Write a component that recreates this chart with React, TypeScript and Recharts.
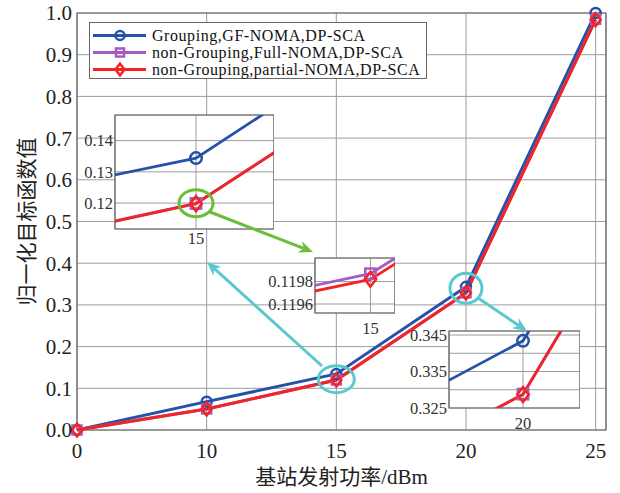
import React from "react";
import {
  LineChart,
  Line,
  XAxis,
  YAxis,
  CartesianGrid,
  Legend,
  ReferenceDot,
  ReferenceArea,
} from "recharts";

// transmit power categories (equally spaced on the axis)
const powerLabels = ["0", "10", "15", "20", "25"];
const groupingGF = [0, 0.068, 0.1344, 0.3434, 1.0];
const fullNoma = [0, 0.0505, 0.11987, 0.3288, 0.985];
const partialNoma = [0, 0.0502, 0.11982, 0.3287, 0.984];

const yTicks = [0, 0.1, 0.2, 0.3, 0.4, 0.5, 0.6, 0.7, 0.8, 0.9, 1.0];
const xTicks = [0, 1, 2, 3, 4];

const inset1YTicks = [0.12, 0.13, 0.14];
const inset2YTicks = [0.1196, 0.1198];
const inset3YTicks = [0.325, 0.33, 0.335, 0.34, 0.345];
const inset3YLabels = [0.325, 0.335, 0.345];

const BLUE = "#2452a8";
const PURPLE = "#a65bc4";
const RED = "#f22424";
const CYAN = "#5ac8cf";
const GREEN = "#6cbd3a";
const GRID = "#9c9c9c";
const BOX = "#666";
const SERIF = "'Liberation Serif', 'Noto Sans CJK SC', serif";

const series = [
  { key: "gf", name: "Grouping,GF-NOMA,DP-SCA", color: BLUE, marker: "circle" },
  { key: "full", name: "non-Grouping,Full-NOMA,DP-SCA", color: PURPLE, marker: "square" },
  { key: "partial", name: "non-Grouping,partial-NOMA,DP-SCA", color: RED, marker: "diamond" },
];

const rows = powerLabels.map((p, i) => ({
  idx: i,
  power: p,
  gf: groupingGF[i],
  full: fullNoma[i],
  partial: partialNoma[i],
}));

function markerShape(type: string, cx: number, cy: number, color: string, s = 1) {
  if (type === "circle")
    return <circle cx={cx} cy={cy} r={5 * s} fill="none" stroke={color} strokeWidth={2.5} />;
  if (type === "square")
    return (
      <rect x={cx - 4.5 * s} y={cy - 4.5 * s} width={9 * s} height={9 * s}
        fill="none" stroke={color} strokeWidth={2.5} />
    );
  const w = 5 * s;
  const h = 6.5 * s;
  return (
    <polygon
      points={`${cx},${cy - h} ${cx + w},${cy} ${cx},${cy + h} ${cx - w},${cy}`}
      fill="none" stroke={color} strokeWidth={2.5}
    />
  );
}

const makeDot = (type: string, color: string, s = 1) => (p: any) => {
  if (p.cx == null || p.cy == null) return <g key={`e-${p.index}`} />;
  return <g key={`d-${p.index}`}>{markerShape(type, p.cx, p.cy, color, s)}</g>;
};

const renderLegend = () => (
  <div
    style={{
      width: 338,
      height: 57,
      boxSizing: "border-box",
      border: `1px solid ${BOX}`,
      background: "#fff",
      paddingTop: 3.5,
      fontFamily: SERIF,
      fontSize: 16,
      letterSpacing: 0.55,
      color: "#111",
    }}
  >
    {series.map((s) => (
      <div key={s.key} style={{ display: "flex", alignItems: "center", height: 17 }}>
        <svg width={62} height={17} style={{ flex: "none" }}>
          <line x1={3} x2={56} y1={8.5} y2={8.5} stroke={s.color} strokeWidth={3} />
          {markerShape(s.marker, 30, 8.5, s.color, 0.9)}
        </svg>
        <span style={{ whiteSpace: "nowrap", lineHeight: "17px" }}>{s.name}</span>
      </div>
    ))}
  </div>
);

const ellipse = (rx: number, ry: number, color: string) => (p: any) =>
  <ellipse cx={p.cx} cy={p.cy} rx={rx} ry={ry} fill="none" stroke={color} strokeWidth={3} />;

interface InsetProps {
  left: number;
  top: number;
  plotW: number;
  plotH: number;
  yAxisW: number;
  xAxisH: number;
  xDomain: [number, number];
  yDomain: [number, number];
  yTickVals: number[];
  yLabelVals: number[];
  yDigits: number;
  xTick: number;
  xTickGap: number;
  keys: string[];
  children?: React.ReactNode;
}

// room above an inset's plot so its top tick label is not cut
const INSET_PAD = 10;

function Inset(props: InsetProps) {
  const { left, top, plotW, plotH, yAxisW, xAxisH, xDomain, yDomain } = props;
  return (
    <div style={{ position: "absolute", left: left - yAxisW, top: top - INSET_PAD }}>
      <LineChart
        width={plotW + yAxisW}
        height={plotH + xAxisH + INSET_PAD}
        data={rows}
        margin={{ top: INSET_PAD, right: 0, bottom: 0, left: 0 }}
      >
        <CartesianGrid stroke={GRID} fill="#fff" fillOpacity={1} />
        <XAxis
          dataKey="idx"
          type="number"
          domain={xDomain}
          allowDataOverflow
          ticks={[props.xTick]}
          interval={0}
          tickFormatter={(v) => powerLabels[Math.round(v)]}
          height={xAxisH}
          axisLine={false}
          tickLine={false}
          tickSize={0}
          tickMargin={props.xTickGap}
          tick={{ fontSize: 16.5, fontFamily: SERIF, fill: "#333" }}
        />
        <YAxis
          type="number"
          domain={yDomain}
          allowDataOverflow
          ticks={props.yTickVals}
          interval={0}
          tickFormatter={(v) =>
            props.yLabelVals.some((l) => Math.abs(l - v) < 1e-9) ? v.toFixed(props.yDigits) : ""
          }
          width={yAxisW}
          axisLine={false}
          tickLine={false}
          tickSize={0}
          tickMargin={2}
          tick={{ fontSize: 16.5, fontFamily: SERIF, fill: "#333" }}
        />
        {series
          .filter((s) => props.keys.includes(s.key))
          .map((s) => (
            <Line
              key={s.key}
              dataKey={s.key}
              stroke={s.color}
              strokeWidth={2.8}
              dot={makeDot(s.marker, s.color, 1.15)}
              isAnimationActive={false}
            />
          ))}
        {props.children}
        <ReferenceArea
          x1={xDomain[0]}
          x2={xDomain[1]}
          y1={yDomain[0]}
          y2={yDomain[1]}
          fill="none"
          stroke={BOX}
          strokeWidth={1.2}
          fillOpacity={0}
        />
      </LineChart>
    </div>
  );
}

function arrowHead(x1: number, y1: number, x2: number, y2: number) {
  const dx = x2 - x1;
  const dy = y2 - y1;
  const len = Math.hypot(dx, dy);
  const ux = dx / len;
  const uy = dy / len;
  const nx = -uy;
  const ny = ux;
  const L = 14;
  const W = 6;
  const bx = x2 - ux * L;
  const by = y2 - uy * L;
  const mx = x2 - ux * (L - 4);
  const my = y2 - uy * (L - 4);
  return `${x2},${y2} ${bx + nx * W},${by + ny * W} ${mx},${my} ${bx - nx * W},${by - ny * W}`;
}

const arrows = [
  { from: [322, 366], to: [207, 262], color: CYAN },
  { from: [210, 212], to: [313, 252], color: GREEN },
  { from: [478, 298], to: [527, 331], color: CYAN },
];

export default function App() {
  return (
    <div style={{ position: "relative", width: 620, height: 493, background: "#fff" }}>
      <style>{"body{margin:0}"}</style>
      <LineChart
        width={620}
        height={493}
        data={rows}
        margin={{ top: 13, right: 14, bottom: 0, left: 0 }}
      >
        <CartesianGrid stroke={GRID} />
        <XAxis
          dataKey="idx"
          type="number"
          domain={[0, 4.08]}
          ticks={xTicks}
          tickFormatter={(v) => powerLabels[v]}
          height={63}
          axisLine={false}
          tickLine={false}
          tickSize={0}
          tickMargin={13}
          tick={{ fontSize: 21, fontFamily: SERIF, fill: "#222" }}
          label={{
            value: "基站发射功率/dBm",
            position: "insideBottom",
            offset: 9,
            style: { fontSize: 21, fontFamily: SERIF, fill: "#222" },
          }}
        />
        <YAxis
          type="number"
          domain={[0, 1]}
          ticks={yTicks}
          tickFormatter={(v) => v.toFixed(1)}
          width={77}
          axisLine={false}
          tickLine={false}
          tickSize={0}
          tickMargin={5}
          tick={{ fontSize: 21, fontFamily: SERIF, fill: "#222" }}
          label={{
            value: "归一化目标函数值",
            angle: -90,
            position: "insideLeft",
            offset: 27,
            style: { fontSize: 21, fontFamily: SERIF, fill: "#222", textAnchor: "middle" },
          }}
        />
        <Legend
          layout="horizontal"
          verticalAlign="middle"
          align="center"
          content={renderLegend}
          wrapperStyle={{ left: 89, top: 22, width: 338, height: 57 }}
        />
        {series.map((s) => (
          <Line
            key={s.key}
            dataKey={s.key}
            name={s.name}
            stroke={s.color}
            strokeWidth={3}
            dot={makeDot(s.marker, s.color)}
            isAnimationActive={false}
          />
        ))}
        <ReferenceDot x={2} y={0.122} r={0} shape={ellipse(18, 13.5, CYAN)} />
        <ReferenceDot x={3} y={0.34} r={0} shape={ellipse(16, 15, CYAN)} />
        <ReferenceArea x1={0} x2={4.08} y1={0} y2={1} fill="none" fillOpacity={0} stroke={BOX} strokeWidth={1.2} />
      </LineChart>

      <Inset
        left={115}
        top={115}
        plotW={159}
        plotH={114}
        yAxisW={40}
        xAxisH={22}
        xDomain={[1.919, 2.078]}
        yDomain={[0.1117, 0.1482]}
        yTickVals={inset1YTicks}
        yLabelVals={inset1YTicks}
        yDigits={2}
        xTick={2}
        xTickGap={3}
        keys={["gf", "full", "partial"]}
      >
        <ReferenceDot x={2} y={0.11995} r={0} shape={ellipse(17, 13.5, GREEN)} />
      </Inset>

      <Inset
        left={315}
        top={258}
        plotW={80}
        plotH={55}
        yAxisW={55}
        xAxisH={26}
        xDomain={[1.99851, 2.00066]}
        yDomain={[0.11952, 0.12001]}
        yTickVals={inset2YTicks}
        yLabelVals={inset2YTicks}
        yDigits={4}
        xTick={2}
        xTickGap={9}
        keys={["full", "partial"]}
      />

      <Inset
        left={449}
        top={331}
        plotW={131}
        plotH={77}
        yAxisW={50}
        xAxisH={26}
        xDomain={[2.9483, 3.0398]}
        yDomain={[0.325, 0.3461]}
        yTickVals={inset3YTicks}
        yLabelVals={inset3YLabels}
        yDigits={3}
        xTick={3}
        xTickGap={9}
        keys={["gf", "full", "partial"]}
      />

      <svg
        width={620}
        height={493}
        style={{ position: "absolute", left: 0, top: 0, pointerEvents: "none" }}
      >
        {arrows.map((a, i) => {
          const [x1, y1] = a.from;
          const [x2, y2] = a.to;
          const len = Math.hypot(x2 - x1, y2 - y1);
          const ex = x2 - ((x2 - x1) / len) * 10;
          const ey = y2 - ((y2 - y1) / len) * 10;
          return (
            <g key={i}>
              <line x1={x1} y1={y1} x2={ex} y2={ey} stroke={a.color} strokeWidth={3} />
              <polygon points={arrowHead(x1, y1, x2, y2)} fill={a.color} />
            </g>
          );
        })}
      </svg>
    </div>
  );
}
